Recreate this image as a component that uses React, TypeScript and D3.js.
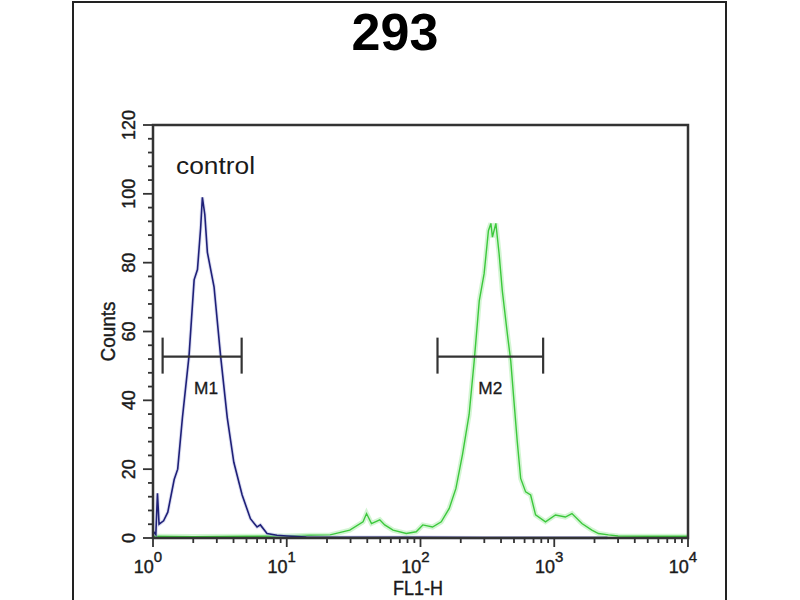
import React, { useEffect, useRef } from 'react';
import * as d3 from 'd3';

// control histogram (blue): [FL1-H, counts]
const controlFL = [1.0, 1.05, 1.08, 1.11, 1.2, 1.29, 1.44, 1.53, 1.66, 1.86, 2.03, 2.15, 2.27, 2.34, 2.44, 2.55, 2.86, 3.2, 3.59, 4.02, 4.64, 5.35, 6.0, 6.35, 7.12, 8.45, 10, 14, 30, 100, 300, 1000, 2500];
const controlCounts = [2, 1, 13, 4, 5, 7.5, 17, 20, 35, 53, 75, 78, 90, 99, 94, 83, 73, 53, 35, 22, 12.5, 5.6, 3.2, 3.8, 1.3, 0.8, 0.6, 0.3, 0.2, 0.2, 0.1, 0.1, 0.1];

// sample histogram (green)
const sampleFL = [1, 2, 5, 10, 15, 21.1, 29.6, 37.2, 39.5, 43.0, 49.6, 54.0, 62.3, 78.3, 92.9, 104, 123, 143, 164, 184, 206, 231, 252, 275, 299, 322, 336, 345, 366, 387, 409, 446, 473, 500, 529, 561, 611, 666, 725, 860, 1021, 1211, 1356, 1610, 1910, 2142, 2542, 3000, 5000, 10000];
const sampleCounts = [0.5, 0.4, 0.5, 0.6, 0.8, 0.9, 2.3, 4.7, 7.1, 4.2, 5.3, 3.8, 2.3, 1.3, 1.8, 3.8, 3.2, 4.7, 8.6, 14.4, 24.2, 35.9, 51.4, 68.9, 76.8, 89.3, 91.4, 87.4, 91.4, 82.6, 71.8, 59.3, 51.4, 39.7, 28, 17.3, 13.4, 12.5, 6.7, 4.7, 6.7, 6.1, 7.1, 4.2, 2.3, 1.3, 0.9, 0.6, 0.5, 0.5];

// gates
const markerNames = ['M1', 'M2'];
const markerFrom = [1.18, 134];
const markerTo = [4.6, 826];
const markerLevel = [52.7, 52.7];

const yTicks = [0, 20, 40, 60, 80, 100, 120];
const xDecades = [0, 1, 2, 3, 4];

const W = 800;
const H = 600;
const plot = { left: 153, right: 688, top: 125, bottom: 538 };

export default function App() {
  const svgRef = useRef<SVGSVGElement>(null);

  useEffect(() => {
    if (!svgRef.current) return;
    const svg = d3.select(svgRef.current);
    svg.selectAll('*').remove();

    const x = d3.scaleLog().domain([1, 10000]).range([plot.left, plot.right]);
    const y = d3.scaleLinear().domain([0, 120]).range([plot.bottom, plot.top]);
    const font = 'Liberation Sans, Arial, sans-serif';
    const ink = '#1a1a1a';

    svg.append('rect').attr('width', W).attr('height', H).attr('fill', '#fff');

    // outer frame
    svg.append('path')
      .attr('d', `M73,${H + 5} L73,2 L726,2 L726,${H + 5}`)
      .attr('fill', 'none')
      .attr('stroke', '#222')
      .attr('stroke-width', 2);

    // title
    svg.append('text')
      .attr('x', 395).attr('y', 50)
      .attr('text-anchor', 'middle')
      .style('font-family', font)
      .style('font-weight', 700)
      .style('font-size', '52px')
      .text('293');

    // histograms
    const line = d3.line<[number, number]>()
      .x(d => x(d[0]))
      .y(d => y(d[1]));

    const sampleData = sampleFL.map((v, i) => [v, sampleCounts[i]] as [number, number]);
    const controlData = controlFL.map((v, i) => [v, controlCounts[i]] as [number, number]);

    svg.append('path')
      .attr('d', line(sampleData))
      .attr('fill', 'none')
      .attr('stroke', '#b6efb6')
      .attr('stroke-width', 5)
      .attr('stroke-opacity', 0.6);
    svg.append('path')
      .attr('d', line(sampleData))
      .attr('fill', 'none')
      .attr('stroke', '#3cc83c')
      .attr('stroke-width', 1.4);

    svg.append('path')
      .attr('d', line(controlData))
      .attr('fill', 'none')
      .attr('stroke', '#b9bde6')
      .attr('stroke-width', 3.5)
      .attr('stroke-opacity', 0.5);
    svg.append('path')
      .attr('d', line(controlData))
      .attr('fill', 'none')
      .attr('stroke', '#1f2078')
      .attr('stroke-width', 1.6);

    // plot frame
    svg.append('path')
      .attr('d', `M${plot.left},${plot.bottom} L${plot.left},${plot.top} L${plot.right},${plot.top} L${plot.right},${plot.bottom} Z`)
      .attr('fill', 'none')
      .attr('stroke', '#333')
      .attr('stroke-width', 2.5);

    // y ticks
    const yMinor = d3.range(0, 121, 4);
    svg.append('g').selectAll('line')
      .data(yMinor)
      .join('line')
      .attr('x1', plot.left)
      .attr('x2', d => plot.left - (d % 20 === 0 ? 10 : 5))
      .attr('y1', d => y(d))
      .attr('y2', d => y(d))
      .attr('stroke', '#333')
      .attr('stroke-width', 1.8);

    svg.append('g').selectAll('text')
      .data(yTicks)
      .join('text')
      .attr('transform', d => `translate(135,${y(d)}) rotate(-90)`)
      .attr('text-anchor', 'middle')
      .style('font-family', font)
      .style('font-size', '18px')
      .style('fill', ink)
      .style('stroke', ink)
      .style('stroke-width', 0.4)
      .text(d => d);

    svg.append('text')
      .attr('transform', `translate(115,${(plot.top + plot.bottom) / 2}) rotate(-90)`)
      .attr('text-anchor', 'middle')
      .attr('textLength', 60)
      .attr('lengthAdjust', 'spacingAndGlyphs')
      .style('font-family', font)
      .style('font-size', '21px')
      .style('fill', ink)
      .style('stroke', ink)
      .style('stroke-width', 0.4)
      .text('Counts');

    // x ticks
    const xMinor: number[] = [];
    xDecades.forEach(e => {
      if (e < 4) d3.range(1, 10).forEach(m => xMinor.push(m * Math.pow(10, e)));
    });
    xMinor.push(10000);
    svg.append('g').selectAll('line')
      .data(xMinor)
      .join('line')
      .attr('x1', d => x(d))
      .attr('x2', d => x(d))
      .attr('y1', plot.bottom)
      .attr('y2', d => plot.bottom + (Math.abs(Math.log10(d) % 1) < 1e-6 ? 9 : 5))
      .attr('stroke', '#333')
      .attr('stroke-width', 1.8);

    const xl = svg.append('g').selectAll('text')
      .data(xDecades)
      .join('text')
      .attr('x', d => x(Math.pow(10, d)) - 5)
      .attr('y', 573)
      .attr('text-anchor', 'middle')
      .style('font-family', font)
      .style('font-size', '18px')
      .style('fill', ink)
      .style('stroke', ink)
      .style('stroke-width', 0.4);
    xl.append('tspan').text('10');
    xl.append('tspan')
      .attr('dy', -11)
      .style('font-size', '15px')
      .text(d => d);

    svg.append('text')
      .attr('x', 418).attr('y', 595)
      .attr('text-anchor', 'middle')
      .attr('textLength', 50)
      .attr('lengthAdjust', 'spacingAndGlyphs')
      .style('font-family', font)
      .style('font-size', '21px')
      .style('fill', ink)
      .style('stroke', ink)
      .style('stroke-width', 0.4)
      .text('FL1-H');

    // control label
    svg.append('text')
      .attr('x', 176).attr('y', 174)
      .attr('textLength', 79)
      .attr('lengthAdjust', 'spacingAndGlyphs')
      .style('font-family', font)
      .style('font-size', '23px')
      .style('fill', ink)
      .text('control');

    // markers
    markerNames.forEach((name, i) => {
      const g = svg.append('g');
      const x0 = x(markerFrom[i]);
      const x1 = x(markerTo[i]);
      const yy = y(markerLevel[i]);
      g.append('line').attr('x1', x0).attr('x2', x1).attr('y1', yy).attr('y2', yy)
        .attr('stroke', '#333').attr('stroke-width', 2.2);
      [x0, x1].forEach(xx => {
        g.append('line').attr('x1', xx).attr('x2', xx).attr('y1', yy - 19).attr('y2', yy + 17)
          .attr('stroke', '#333').attr('stroke-width', 2.2);
      });
      g.append('text')
        .attr('x', (x0 + x1) / 2 + (i === 0 ? 4 : 0))
        .attr('y', yy + 37)
        .attr('text-anchor', 'middle')
        .attr('textLength', 24)
        .attr('lengthAdjust', 'spacingAndGlyphs')
        .style('font-family', font)
        .style('font-size', '17px')
        .style('fill', ink)
        .style('stroke', ink)
        .style('stroke-width', 0.3)
        .text(name);
    });
  }, []);

  return (
    <svg
      ref={svgRef}
      width={W}
      height={H}
      style={{ position: 'absolute', left: 0, top: 0 }}
    />
  );
}
